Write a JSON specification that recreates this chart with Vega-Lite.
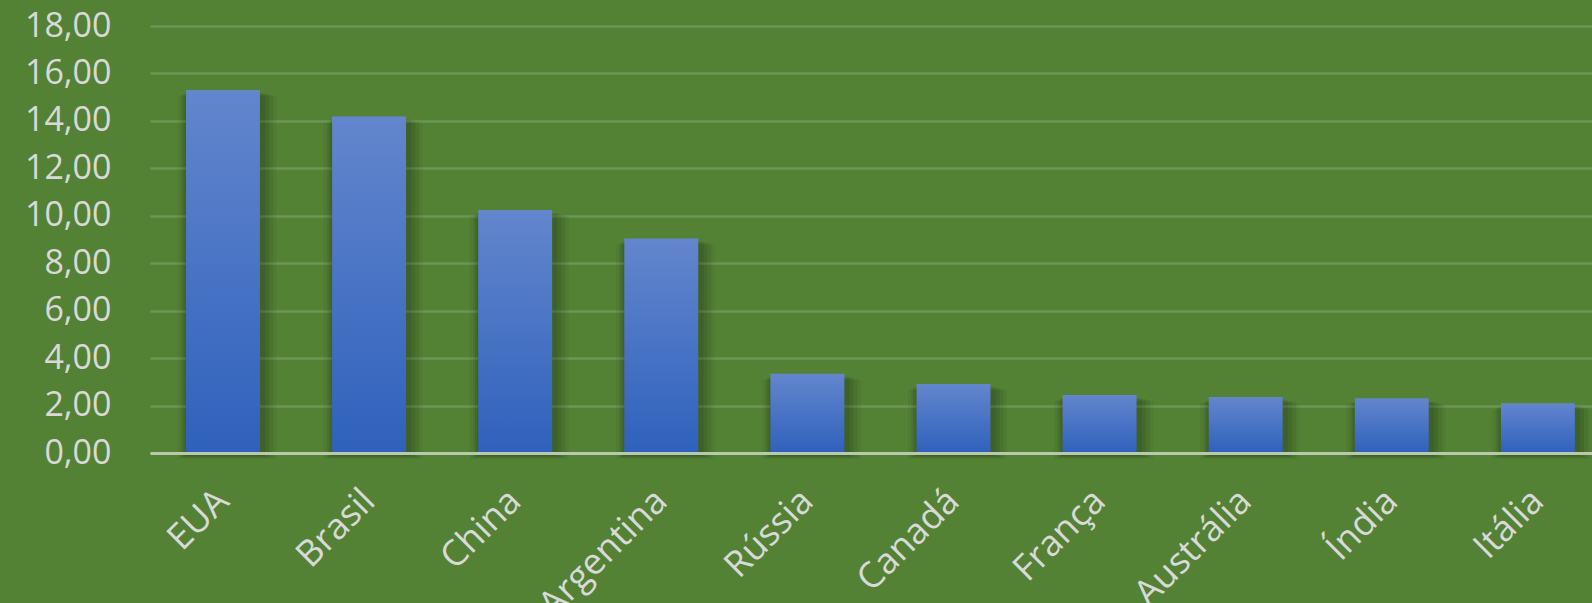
{
  "$schema": "https://vega.github.io/schema/vega-lite/v6.json",
  "width": 1442,
  "height": 427,
  "autosize": {"type": "none"},
  "padding": {"left": 150, "top": 26, "right": 0, "bottom": 150},
  "background": "#548235",
  "config": {
    "view": {"stroke": null},
    "font": "Open Sans"
  },
  "data": {
    "values": [
      {"pais": "EUA", "valor": 15.3},
      {"pais": "Brasil", "valor": 14.19},
      {"pais": "China", "valor": 10.24},
      {"pais": "Argentina", "valor": 9.04},
      {"pais": "Rússia", "valor": 3.34},
      {"pais": "Canadá", "valor": 2.91},
      {"pais": "França", "valor": 2.44},
      {"pais": "Austrália", "valor": 2.36},
      {"pais": "Índia", "valor": 2.31},
      {"pais": "Itália", "valor": 2.1}
    ]
  },
  "encoding": {
    "x": {
      "field": "pais",
      "type": "nominal",
      "sort": null,
      "scale": {"paddingInner": 0.494, "paddingOuter": 0.182, "align": 0.677},
      "axis": {
        "title": null,
        "labelAngle": -45,
        "labelAlign": "right",
        "labelBaseline": "middle",
        "labelFontSize": 36,
        "labelColor": "#d9d9d9",
        "labelPadding": 42,
        "ticks": false,
        "domainColor": "#b8c9ae",
        "domainWidth": 3,
        "zindex": 1
      }
    },
    "y": {
      "field": "valor",
      "type": "quantitative",
      "scale": {"domain": [0, 18]},
      "axis": {
        "title": null,
        "values": [0, 2, 4, 6, 8, 10, 12, 14, 16, 18],
        "labelOverlap": false,
        "labelExpr": "replace(format(datum.value, '.2f'), '.', ',')",
        "labelFontSize": 34,
        "labelColor": "#d9d9d9",
        "labelPadding": 39,
        "ticks": false,
        "domain": false,
        "gridColor": "#6b9655",
        "gridWidth": 2.5
      }
    }
  },
  "layer": [
    {"mark": {"type": "bar", "color": "black", "opacity": 0.05, "width": {"band": 1.34}, "xOffset": 4, "yOffset": 6}},
    {"mark": {"type": "bar", "color": "black", "opacity": 0.06, "width": {"band": 1.25}, "xOffset": 4, "yOffset": 5}},
    {"mark": {"type": "bar", "color": "black", "opacity": 0.07, "width": {"band": 1.17}, "xOffset": 3, "yOffset": 4}},
    {"mark": {"type": "bar", "color": "black", "opacity": 0.08, "width": {"band": 1.09}, "xOffset": 2, "yOffset": 3}},
    {
      "mark": {
        "type": "bar",
        "color": {
          "gradient": "linear",
          "x1": 0, "y1": 0, "x2": 0, "y2": 1,
          "stops": [
            {"offset": 0, "color": "#6386cd"},
            {"offset": 1, "color": "#2f61bc"}
          ]
        }
      }
    }
  ]
}
